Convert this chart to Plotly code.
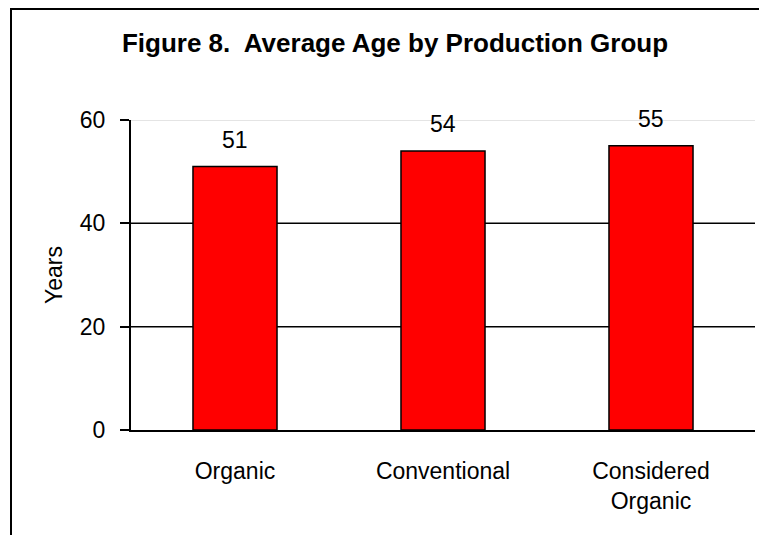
import plotly.graph_objects as go

# Average age of respondents by production group
groups = ["Organic", "Conventional", "Considered<br>Organic"]
avg_age = [51, 54, 55]

y_ticks = [0, 20, 40, 60]
grid_dark = [20, 40]
grid_light = [60]

FONT = "Liberation Sans, Arial, sans-serif"
W, H = 759, 535
M = dict(l=131, r=4, t=120, b=105)
plot_w = W - M["l"] - M["r"]
plot_h = H - M["t"] - M["b"]

fig = go.Figure()
fig.add_trace(go.Bar(
    x=groups,
    y=avg_age,
    marker=dict(color="#ff0000", line=dict(color="black", width=1.5)),
    hoverinfo="skip",
))

# value labels above each bar
for g, v in zip(groups, avg_age):
    fig.add_annotation(
        x=g, y=v, text=str(v), showarrow=False,
        yanchor="bottom", yshift=12,
        font=dict(family=FONT, size=23, color="black"),
    )

shapes = []
for gv in grid_dark:
    shapes.append(dict(type="line", xref="paper", x0=0, x1=1, yref="y", y0=gv, y1=gv,
                       line=dict(color="black", width=1.5), layer="below"))
for gv in grid_light:
    shapes.append(dict(type="line", xref="paper", x0=0, x1=1, yref="y", y0=gv, y1=gv,
                       line=dict(color="#e4e4e4", width=2), layer="below"))
# frame around the chart (left and top edges fall inside the page)
shapes.append(dict(type="rect", xref="paper", yref="paper",
                   x0=(11 - M["l"]) / plot_w, x1=1.2,
                   y0=-0.6, y1=(H - M["b"] - 9) / plot_h,
                   line=dict(color="black", width=2), fillcolor="rgba(0,0,0,0)"))

fig.update_layout(
    width=W, height=H,
    margin=M,
    paper_bgcolor="white",
    plot_bgcolor="white",
    bargap=0.596,
    showlegend=False,
    shapes=shapes,
    font=dict(family=FONT, size=23, color="black"),
    title=dict(
        text="<b>Figure 8.  Average Age by Production Group</b>",
        font=dict(family=FONT, size=26, color="black"),
        x=395 / W, xanchor="center", xref="container",
        y=1 - 43 / H, yanchor="middle", yref="container",
    ),
    xaxis=dict(
        showline=True, linecolor="black", linewidth=2,
        ticks="", showgrid=False,
        ticklabelstandoff=19,
        tickfont=dict(family=FONT, size=23, color="black"),
    ),
    yaxis=dict(
        range=[0, 60],
        tickvals=y_ticks,
        showline=True, linecolor="black", linewidth=2,
        ticks="outside", ticklen=9, tickwidth=1.5, tickcolor="black",
        ticklabelstandoff=10,
        showgrid=False, zeroline=False,
        tickfont=dict(family=FONT, size=23, color="black"),
        title=dict(text="Years", standoff=11,
                   font=dict(family=FONT, size=23, color="black")),
    ),
)

fig.write_html("out.html")
